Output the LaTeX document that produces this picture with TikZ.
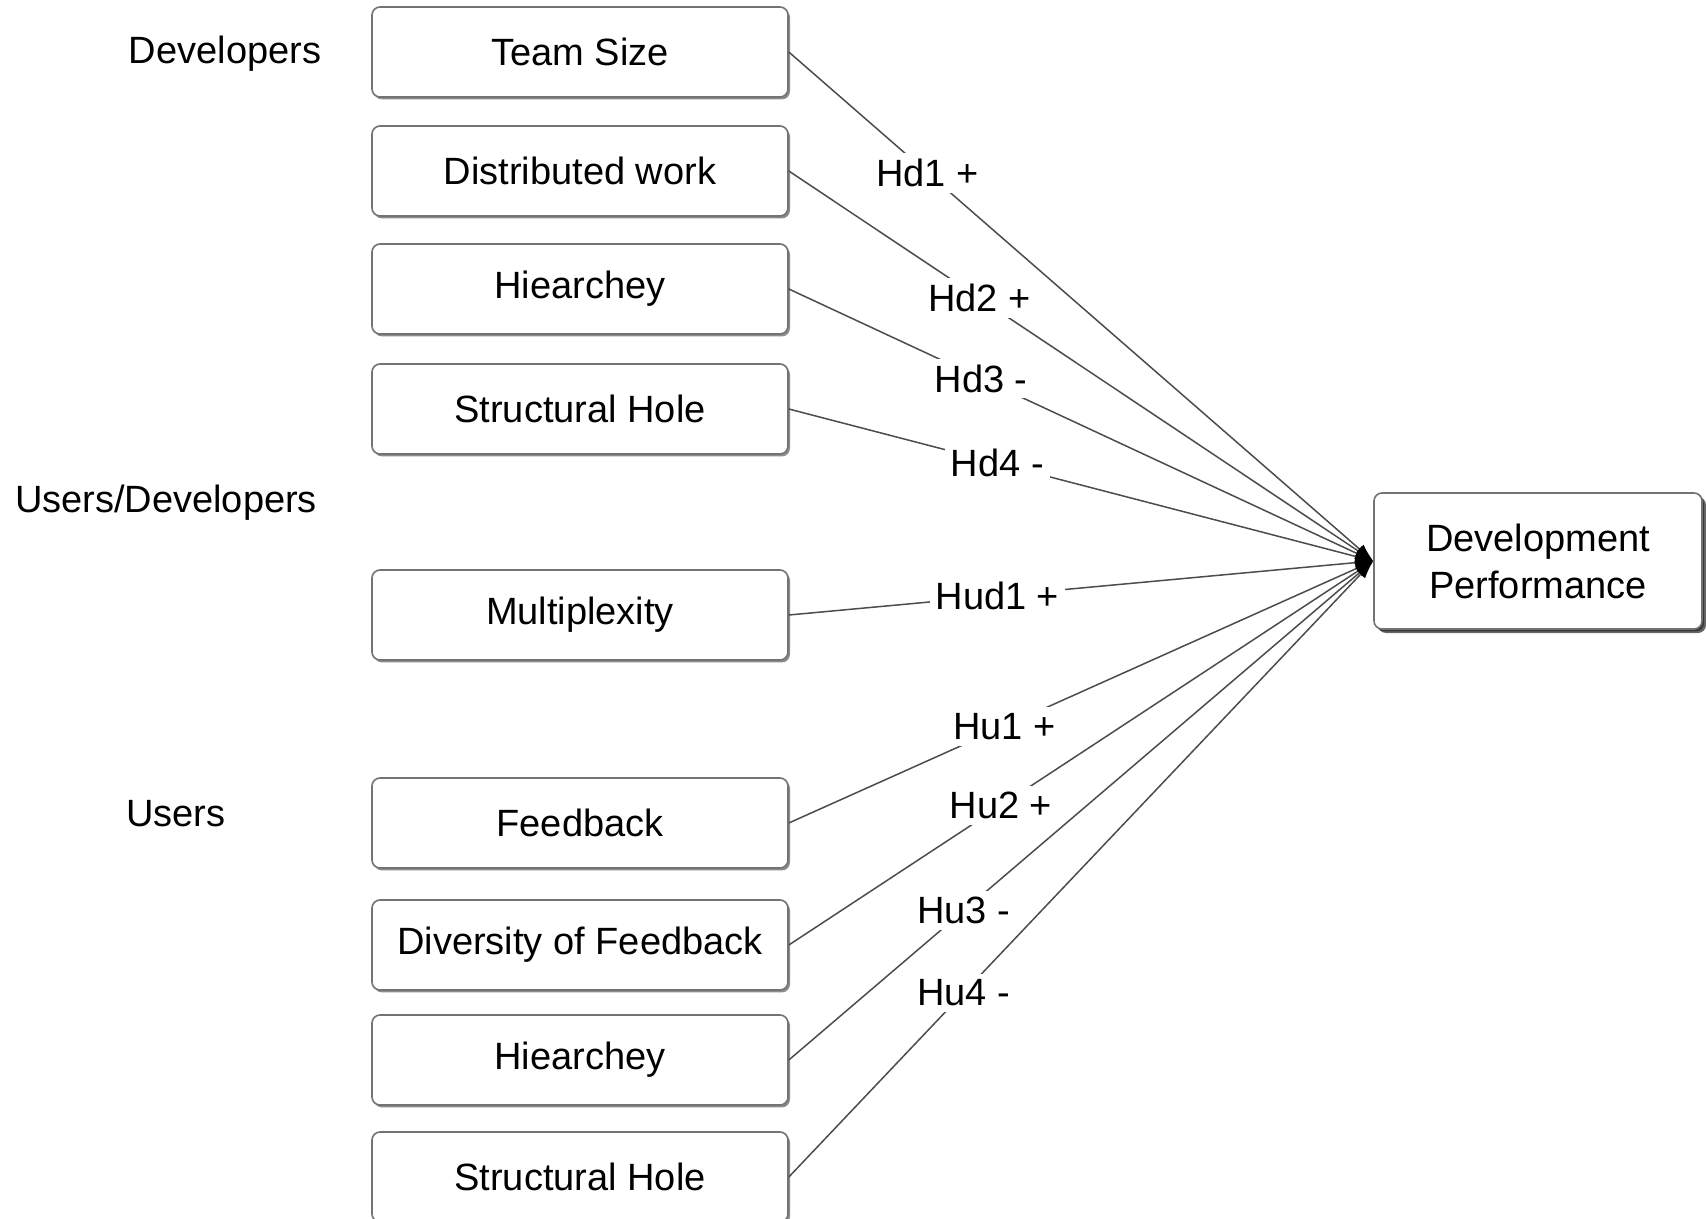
\documentclass[tikz,border=0pt]{standalone}
\usepackage{fontspec}
\setmainfont{Liberation Sans}
\usepackage{tikz}
\usetikzlibrary{arrows.meta, shadows}

\begin{document}
\begin{tikzpicture}[
  x = 0.5pt, y = -0.5pt,
  every node/.style = {font=\fontsize{19}{22}\selectfont},
  box/.style   = {rectangle, rounded corners=4pt, draw=black!55, thick,
                  align=center, inner sep=3pt, minimum height=45pt,
                  minimum width=208pt, fill=white,
                  drop shadow={shadow xshift=1pt, shadow yshift=-1.2pt,
                               opacity=.45, fill=black}},
  target/.style = {box, minimum width=164pt, minimum height=68pt,
                  font=\fontsize{19}{23.5}\selectfont,
                  drop shadow={shadow xshift=2pt, shadow yshift=-2pt,
                               opacity=.6, fill=black}},
  group/.style = {inner sep=0pt},
  conn/.style  = {-{Latex[length=9pt, width=6pt, color=black]},
                  draw=black!70, line width=0.75pt},
  hyp/.style   = {fill=white, inner sep=3pt}
]
\useasboundingbox (0,0) rectangle (1706,1219);

% ---- group captions -----------------------------------------------------
\node[group, at={(225,54)}]  (gdev)  {Developers};
\node[group, at={(166,503)}] (gboth) {Users/Developers};
\node[group, at={(176,814)}] (guser) {Users};

% ---- developer side -------------------------------------------------------
\node[box, at={(580,52)}]  (tsize) {Team Size};
\node[box, at={(580,171)}] (dwork) {Distributed work};
\node[box, at={(580,289)}] (dhier) {Hiearchey};
\node[box, at={(580,409)}] (dhole) {Structural Hole};

% ---- users/developers -----------------------------------------------------
\node[box, at={(580,615)}] (multi) {Multiplexity};

% ---- user side ------------------------------------------------------------
\node[box, at={(580,823)}]  (fback) {Feedback};
\node[box, at={(580,945)}]  (fdiv)  {Diversity of Feedback};
\node[box, at={(580,1060)}] (uhier) {Hiearchey};
\node[box, at={(580,1177)}] (uhole) {Structural Hole};

% ---- outcome --------------------------------------------------------------
\node[target, at={(1538,561)}] (perf) {Development\\Performance};

% ---- hypotheses -----------------------------------------------------------
\draw[conn] (tsize.east) -- node[hyp, pos=.237] {Hd1 +}  (perf.west);
\draw[conn] (dwork.east) -- node[hyp, pos=.326] {Hd2 +}  (perf.west);
\draw[conn] (dhier.east) -- node[hyp, pos=.329] {Hd3 -}  (perf.west);
\draw[conn] (dhole.east) -- node[hyp, pos=.357] {Hd4 -}  (perf.west);
\draw[conn] (multi.east) -- node[hyp, pos=.357] {Hud1 +} (perf.west);
\draw[conn] (fback.east) -- node[hyp, pos=.369] {Hu1 +}  (perf.west);
\draw[conn] (fdiv.east)  -- node[hyp, pos=.363] {Hu2 +}  (perf.west);
\draw[conn] (uhier.east) -- node[hyp, pos=.299] {Hu3 -}  (perf.west);
\draw[conn] (uhole.east) -- node[hyp, pos=.299] {Hu4 -}  (perf.west);

\end{tikzpicture}
\end{document}
